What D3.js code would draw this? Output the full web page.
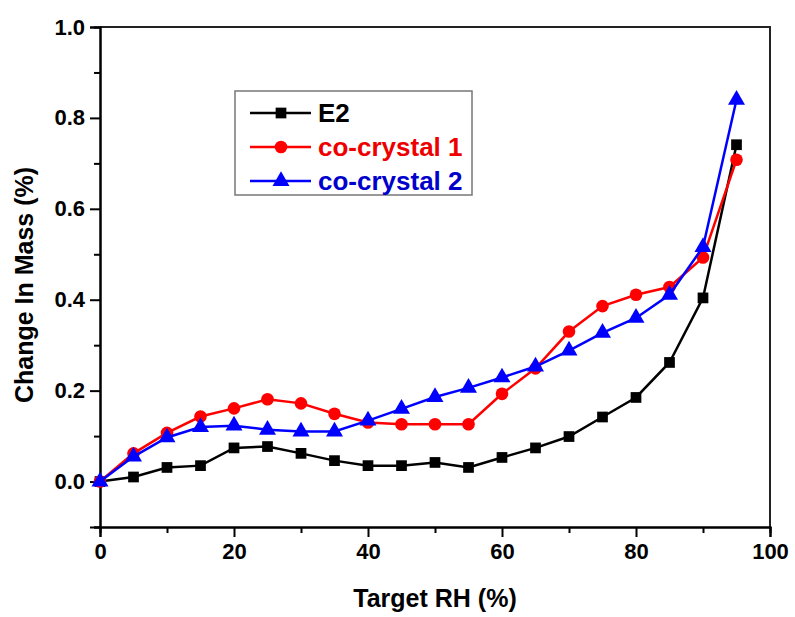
<!DOCTYPE html>
<html>
<head>
<meta charset="utf-8">
<script src="https://cdn.jsdelivr.net/npm/d3@7"></script>
<style>
  body { margin: 0; background: #fff; }
  text { font-family: "Liberation Sans", Arial, sans-serif; font-weight: bold; }
</style>
</head>
<body>
<div id="chart"></div>
<script>
// data
const rh = [0, 5, 10, 15, 20, 25, 30, 35, 40, 45, 50, 55, 60, 65, 70, 75, 80, 85, 90, 95];
const e2 = [0.0, 0.010, 0.031, 0.035, 0.074, 0.077, 0.062, 0.046, 0.035, 0.035, 0.042, 0.031, 0.053, 0.074, 0.099, 0.142, 0.185, 0.262, 0.404, 0.741];
const cc1 = [0.0, 0.062, 0.107, 0.143, 0.161, 0.181, 0.172, 0.149, 0.130, 0.126, 0.126, 0.126, 0.193, 0.249, 0.330, 0.386, 0.411, 0.428, 0.493, 0.708];
const cc2 = [0.0, 0.055, 0.097, 0.120, 0.123, 0.114, 0.110, 0.110, 0.134, 0.160, 0.186, 0.206, 0.229, 0.253, 0.288, 0.327, 0.360, 0.411, 0.516, 0.840];
const seriesNames = ["E2", "co-crystal 1", "co-crystal 2"];
const xTicks = [0, 20, 40, 60, 80, 100];
const yTicks = [0.0, 0.2, 0.4, 0.6, 0.8, 1.0];

const width = 795, height = 617;
const margin = {left: 100, right: 25, top: 27, bottom: 90};

const series = [
  {name: seriesNames[0], values: e2, color: "#000000", text: "#000", shape: d3.symbolSquare, size: 115},
  {name: seriesNames[1], values: cc1, color: "#ff0000", text: "#ee0000", shape: d3.symbolCircle, size: 125},
  {name: seriesNames[2], values: cc2, color: "#0000ff", text: "#0000cc", shape: d3.symbolTriangle, size: 125}
];

const svg = d3.select("#chart").append("svg")
    .attr("width", width)
    .attr("height", height);

const x = d3.scaleLinear().domain([0, 100]).range([margin.left, width - margin.right]);
const y = d3.scaleLinear().domain([-0.1, 1.0]).range([height - margin.bottom, margin.top]);

// frame (top + right)
svg.append("path")
    .attr("d", `M${x(0)},${y(1)}H${x(100)}V${y(-0.1)}`)
    .attr("fill", "none")
    .attr("stroke", "#222")
    .attr("stroke-width", 2);

// x axis
const xMinor = svg.append("g")
    .attr("transform", `translate(0,${y(-0.1)})`)
    .call(d3.axisBottom(x).tickValues(d3.range(10, 100, 20)).tickSize(6).tickFormat(""));
const xAxis = svg.append("g")
    .attr("transform", `translate(0,${y(-0.1)})`)
    .call(d3.axisBottom(x).tickValues(xTicks).tickSize(10).tickPadding(6).tickFormat(d3.format("d")));
xAxis.selectAll("text").attr("font-size", 22).attr("fill", "#000");

// y axis
const yMinor = svg.append("g")
    .attr("transform", `translate(${x(0)},0)`)
    .call(d3.axisLeft(y).tickValues([-0.1, 0.1, 0.3, 0.5, 0.7, 0.9]).tickSize(6).tickFormat(""));
const yAxis = svg.append("g")
    .attr("transform", `translate(${x(0)},0)`)
    .call(d3.axisLeft(y).tickValues(yTicks).tickSize(10).tickPadding(5).tickFormat(d3.format(".1f")));
yAxis.selectAll("text").attr("font-size", 22).attr("fill", "#000");

[xMinor, xAxis, yMinor, yAxis].forEach(g => {
  g.select(".domain").attr("stroke", "#000").attr("stroke-width", 2);
  g.selectAll(".tick line").attr("stroke", "#000").attr("stroke-width", 2);
});

// axis titles
svg.append("text")
    .attr("x", (x(0) + x(100)) / 2)
    .attr("y", 607)
    .attr("text-anchor", "middle")
    .attr("font-size", 25)
    .text("Target RH (%)");

svg.append("text")
    .attr("transform", "translate(33,285) rotate(-90)")
    .attr("text-anchor", "middle")
    .attr("font-size", 25)
    .text("Change In Mass (%)");

// lines + markers
const line = d3.line()
    .x((d, i) => x(rh[i]))
    .y(d => y(d));

series.forEach(s => {
  svg.append("path")
      .datum(s.values)
      .attr("d", line)
      .attr("fill", "none")
      .attr("stroke", s.color)
      .attr("stroke-width", 2.5);

  svg.append("g")
    .selectAll("path")
    .data(s.values)
    .enter().append("path")
      .attr("transform", (d, i) => `translate(${x(rh[i])},${y(d)})`)
      .attr("d", d3.symbol().type(s.shape).size(s.size))
      .attr("fill", s.color);
});

// legend
const legend = svg.append("g").attr("transform", "translate(235,91)");
legend.append("rect")
    .attr("width", 237)
    .attr("height", 104)
    .attr("fill", "#fff")
    .attr("stroke", "#777")
    .attr("stroke-width", 1.5);

series.forEach((s, i) => {
  const row = legend.append("g").attr("transform", `translate(0,${22 + i * 34})`);
  row.append("line")
      .attr("x1", 15).attr("x2", 76)
      .attr("stroke", s.color)
      .attr("stroke-width", 2.5);
  row.append("path")
      .attr("transform", "translate(46,0)")
      .attr("d", d3.symbol().type(s.shape).size(s.size))
      .attr("fill", s.color);
  row.append("text")
      .attr("x", 83)
      .attr("dy", "0.35em")
      .attr("font-size", 26)
      .attr("fill", s.text)
      .text(s.name);
});
</script>
</body>
</html>
